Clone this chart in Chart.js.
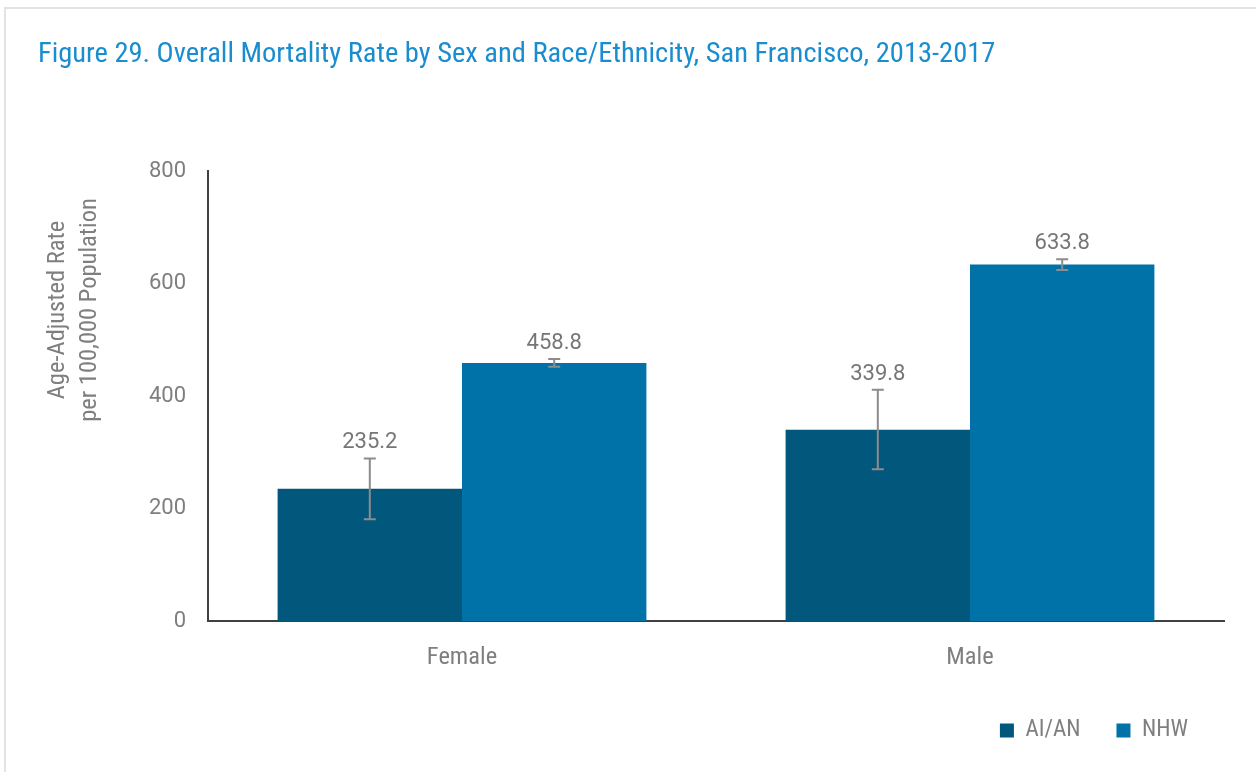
<!DOCTYPE html>
<html>
<head>
<meta charset="utf-8">
<script src="https://cdn.jsdelivr.net/npm/chart.js@4.4.0/dist/chart.umd.min.js"></script>
<style>
  html, body { margin: 0; padding: 0; background: #ffffff; }
  #wrap { position: relative; width: 1256px; height: 772px; overflow: hidden; }
  #frame { position: absolute; left: 4px; top: 7px; width: 1260px; height: 800px;
           border-top: 2px solid #e3e3e3; border-left: 2px solid #e3e3e3; box-sizing: border-box; }
  canvas { position: absolute; left: 0; top: 0; }
</style>
</head>
<body>
<div id="wrap">
  <div id="frame"></div>
  <canvas id="c" width="1256" height="772"></canvas>
</div>
<script>
const FONT = "'Liberation Sans Narrow', 'Roboto Condensed', 'Arial Narrow', 'Liberation Sans', sans-serif";
const NUMFONT = "Roboto, 'Liberation Sans', sans-serif";

const titleText = "Figure 29. Overall Mortality Rate by Sex and Race/Ethnicity, San Francisco, 2013-2017";
const categories = ["Female", "Male"];
const seriesNames = ["AI/AN", "NHW"];
const aianValues = [235.2, 339.8];
const nhwValues = [458.8, 633.8];
const aianLow = [181, 270];
const aianHigh = [289, 411];
const nhwLow = [452, 624];
const nhwHigh = [466, 643];
const yTicks = [0, 200, 400, 600, 800];
const yTitleLines = ["Age-Adjusted Rate", "per 100,000 Population"];

const errLows = [aianLow, nhwLow];
const errHighs = [aianHigh, nhwHigh];

const TEXT_GRAY = "#7f7f7f";

const overlayPlugin = {
  id: 'overlay',
  afterDatasetsDraw(chart) {
    const ctx = chart.ctx;
    const y = chart.scales.y;
    chart.data.datasets.forEach((ds, di) => {
      const meta = chart.getDatasetMeta(di);
      meta.data.forEach((bar, i) => {
        const x = bar.x;
        const yl = y.getPixelForValue(errLows[di][i]);
        const yh = y.getPixelForValue(errHighs[di][i]);
        ctx.save();
        ctx.strokeStyle = "#8c8c8c";
        ctx.lineWidth = 2;
        ctx.beginPath();
        ctx.moveTo(x, yl); ctx.lineTo(x, yh);
        ctx.moveTo(x - 6, yl); ctx.lineTo(x + 6, yl);
        ctx.moveTo(x - 6, yh); ctx.lineTo(x + 6, yh);
        ctx.stroke();
        ctx.fillStyle = "#767676";
        ctx.font = "22px " + NUMFONT;
        ctx.textAlign = "center";
        ctx.textBaseline = "alphabetic";
        ctx.fillText(ds.data[i].toFixed(1), x, yh - 10);
        ctx.restore();
      });
    });
  },
  afterDraw(chart) {
    const ctx = chart.ctx;
    const a = chart.chartArea;
    ctx.save();
    ctx.fillStyle = "#1a8dd0";
    ctx.font = "28.5px " + FONT;
    ctx.textAlign = "left";
    ctx.textBaseline = "alphabetic";
    ctx.fillText(titleText, 38, 62);
    ctx.translate(74, a.top + 139);
    ctx.rotate(-Math.PI / 2);
    ctx.fillStyle = TEXT_GRAY;
    ctx.font = "24.5px " + FONT;
    ctx.textAlign = "center";
    ctx.textBaseline = "middle";
    ctx.fillText(yTitleLines[0], 0, -16);
    ctx.fillText(yTitleLines[1], 0, 16);
    ctx.restore();
  }
};

new Chart(document.getElementById('c'), {
  type: 'bar',
  data: {
    labels: categories,
    datasets: [
      { label: seriesNames[0], data: aianValues, backgroundColor: "#02577d", borderWidth: 0,
        categoryPercentage: 0.726, barPercentage: 1.0 },
      { label: seriesNames[1], data: nhwValues, backgroundColor: "#0072a8", borderWidth: 0,
        categoryPercentage: 0.726, barPercentage: 1.0 }
    ]
  },
  options: {
    responsive: false,
    animation: false,
    devicePixelRatio: 1,
    layout: { padding: { top: 171, left: 0, right: 32, bottom: 20 } },
    plugins: {
      title: { display: false },
      tooltip: { enabled: false },
      legend: {
        position: 'bottom',
        align: 'end',
        labels: {
          boxWidth: 14, boxHeight: 14, padding: 36,
          color: TEXT_GRAY,
          font: { family: FONT, size: 23 }
        }
      }
    },
    scales: {
      x: {
        grid: { display: false, drawTicks: false },
        border: { display: true, color: "#404040", width: 2 },
        ticks: { color: TEXT_GRAY, font: { family: FONT, size: 24.5 }, padding: 22 },
        afterFit(s) { s.height = 62; }
      },
      y: {
        min: 0, max: 800,
        afterBuildTicks(s) { s.ticks = yTicks.map(v => ({ value: v })); },
        grid: { display: false, drawTicks: false },
        border: { display: true, color: "#404040", width: 2 },
        ticks: { color: TEXT_GRAY, font: { family: NUMFONT, size: 22 }, padding: 22 },
        afterFit(s) { s.width = 208; }
      }
    }
  },
  plugins: [overlayPlugin]
});
</script>
</body>
</html>
